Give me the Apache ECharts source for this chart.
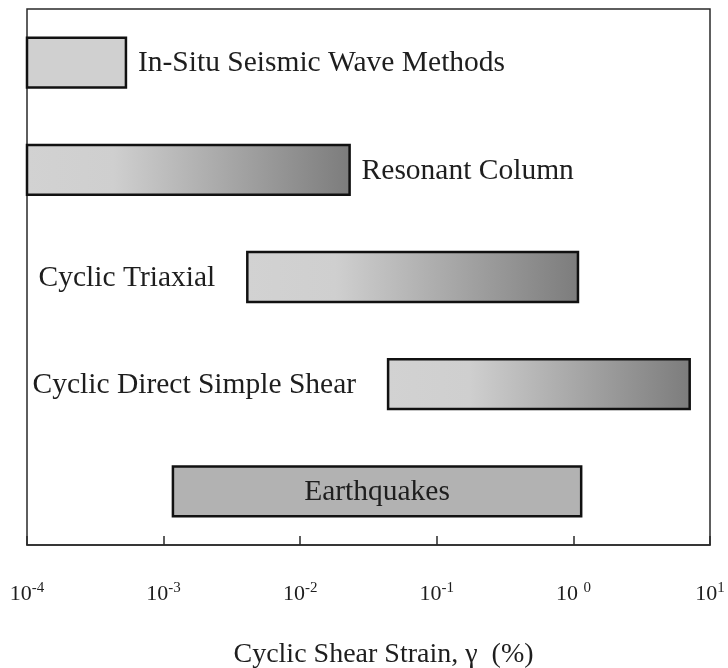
<!DOCTYPE html>
<html>
<head>
<meta charset="utf-8">
<script src="https://cdn.jsdelivr.net/npm/echarts@6/dist/echarts.min.js"></script>
<style>
  html, body { margin: 0; padding: 0; background: #fff; }
  #chart { width: 728px; height: 668px; }
</style>
</head>
<body>
<div id="chart"></div>
<script>
// Strain ranges (%) covered by each testing method / loading
const methods = [
  'In-Situ Seismic Wave Methods',
  'Resonant Column',
  'Cyclic Triaxial',
  'Cyclic Direct Simple Shear',
  'Earthquakes'
];
const strainFrom = [1e-4, 1e-4, 0.0041, 0.044, 0.00117];
const strainTo   = [0.00053, 0.023, 1.08, 7.1, 1.14];
const axisMin = 1e-4;
const axisMax = 10;
const axisTitle = 'Cyclic Shear Strain, \u03b3  (%)';

const SERIF = '"Liberation Serif", "DejaVu Serif", serif';
const TEXT = '#1e1e1e';

// where each label sits relative to its bar, and how the bar is filled
const labelSide = ['right', 'right', 'left', 'left', 'inside'];
function barFill(i) {
  if (i === 0) return '#d0d0d0';
  if (i === 4) return '#b2b2b2';
  return new echarts.graphic.LinearGradient(0, 0, 1, 0, [
    { offset: 0, color: '#d2d2d2' },
    { offset: 0.27, color: '#cfcfcf' },
    { offset: 1, color: '#7c7c7c' }
  ]);
}

const rows = methods.map((m, i) => [strainFrom[i], strainTo[i], i]);

const chart = echarts.init(document.getElementById('chart'), null, { renderer: 'canvas' });

chart.setOption({
  animation: false,
  backgroundColor: '#fff',
  grid: {
    left: 27, right: 18, top: 9, bottom: 123,
    outerBoundsMode: 'none',
    containLabel: false,
    show: true, borderColor: '#2a2a2a', borderWidth: 1.5, backgroundColor: 'transparent'
  },
  xAxis: {
    type: 'log',
    logBase: 10,
    min: axisMin,
    max: axisMax,
    axisLine: { show: true, lineStyle: { color: '#2a2a2a', width: 1.5 } },
    axisTick: { show: true, inside: true, length: 9, lineStyle: { color: '#2a2a2a', width: 1.5 } },
    minorTick: { show: false },
    splitLine: { show: false },
    axisLabel: {
      margin: 36,
      color: TEXT,
      fontFamily: SERIF,
      fontSize: 22,
      formatter: v => {
        const e = Math.round(Math.log10(v));
        return '10' + (e === 0 ? ' ' : '') + '{s|' + e + '}';
      },
      rich: {
        s: { fontSize: 15, fontFamily: SERIF, color: TEXT, padding: [0, 0, 12, 0] }
      }
    },
    name: axisTitle,
    nameLocation: 'middle',
    nameGap: 96,
    nameTextStyle: { color: TEXT, fontFamily: SERIF, fontSize: 28, padding: [0, 0, 0, 30] }
  },
  yAxis: {
    type: 'category',
    data: methods,
    inverse: true,
    axisLine: { show: false },
    axisTick: { show: false },
    axisLabel: { show: false },
    splitLine: { show: false }
  },
  series: [{
    type: 'custom',
    data: rows,
    encode: { x: [0, 1], y: 2 },
    clip: false,
    renderItem: (params, api) => {
      const i = api.value(2);
      const a = api.coord([api.value(0), i]);
      const b = api.coord([api.value(1), i]);
      const band = Math.abs(api.coord([api.value(0), 1])[1] - api.coord([api.value(0), 0])[1]);
      const h = band * 0.465;
      const side = labelSide[i];
      let tx, align;
      if (side === 'right') { tx = b[0] + 12; align = 'left'; }
      else if (side === 'left') { tx = a[0] - 32; align = 'right'; }
      else { tx = (a[0] + b[0]) / 2; align = 'center'; }
      return {
        type: 'group',
        children: [
          {
            type: 'rect',
            shape: { x: a[0], y: a[1] - h / 2, width: b[0] - a[0], height: h },
            style: { fill: barFill(i), stroke: '#111', lineWidth: 2.5 }
          },
          {
            type: 'text',
            style: {
              text: methods[i], x: tx, y: a[1] + 1, align: align, verticalAlign: 'middle',
              fill: TEXT, font: '29.5px ' + SERIF
            }
          }
        ]
      };
    }
  }]
});
</script>
</body>
</html>
